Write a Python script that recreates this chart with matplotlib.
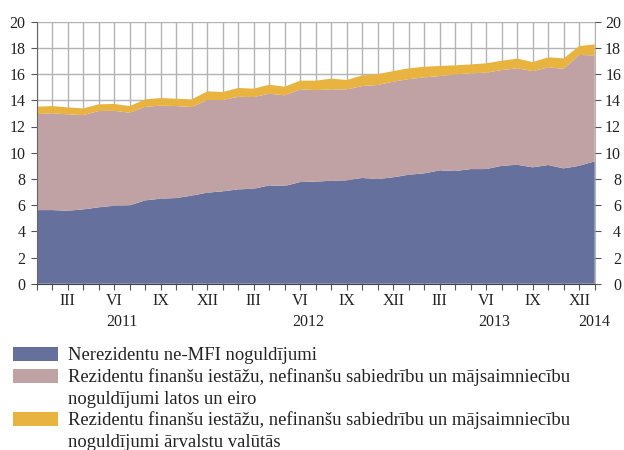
import matplotlib
matplotlib.use("Agg")
import matplotlib.pyplot as plt
from matplotlib.patches import Rectangle
import numpy as np

# monthly data, I 2011 .. I 2014
blue = [5.62, 5.62, 5.57, 5.67, 5.83, 5.95, 5.98, 6.36, 6.49, 6.54, 6.72, 6.95,
        7.05, 7.20, 7.25, 7.50, 7.46, 7.76, 7.79, 7.86, 7.89, 8.07, 7.99, 8.12,
        8.32, 8.42, 8.65, 8.60, 8.75, 8.75, 9.00, 9.08, 8.88, 9.06, 8.80, 9.00,
        9.34]
pink = [7.33, 7.38, 7.36, 7.20, 7.35, 7.25, 7.07, 7.15, 7.10, 7.02, 6.77, 7.07,
        6.97, 7.07, 7.00, 7.00, 6.92, 7.07, 6.99, 6.97, 6.94, 7.02, 7.18, 7.30,
        7.30, 7.33, 7.20, 7.38, 7.31, 7.36, 7.31, 7.36, 7.35, 7.45, 7.61, 8.46,
        8.09]
orange = [0.56, 0.56, 0.53, 0.51, 0.51, 0.52, 0.51, 0.56, 0.58, 0.56, 0.58, 0.66,
          0.61, 0.67, 0.64, 0.69, 0.66, 0.67, 0.72, 0.82, 0.72, 0.81, 0.83, 0.81,
          0.82, 0.81, 0.77, 0.69, 0.68, 0.71, 0.71, 0.74, 0.69, 0.77, 0.79, 0.68,
          0.84]

roman = ['I', 'II', 'III', 'IV', 'V', 'VI', 'VII', 'VIII', 'IX', 'X', 'XI', 'XII']
shown_months = ['III', 'VI', 'IX', 'XII']
years = ['2011', '2012', '2013', '2014']

labels = [
    'Nerezidentu ne-MFI noguldījumi',
    'Rezidentu finanšu iestāžu, nefinanšu sabiedrību un mājsaimniecību\nnoguldījumi latos un eiro',
    'Rezidentu finanšu iestāžu, nefinanšu sabiedrību un mājsaimniecību\nnoguldījumi ārvalstu valūtās',
]
colors = ['#65719c', '#c1a2a4', '#e8b33f']

plt.rcParams['font.family'] = ['Liberation Serif', 'DejaVu Serif']

W, H = 624, 450
fig = plt.figure(figsize=(W / 100, H / 100), dpi=100)
ax = fig.add_axes([36.7 / W, 1 - 283.7 / H, 558 / W, 262 / H])

x = np.arange(len(blue))
ax.stackplot(x, blue, pink, orange, colors=colors, linewidth=0, zorder=2)

ax.set_xlim(0, len(blue) - 1)
ax.set_ylim(0, 20)
ax.set_yticks(range(0, 21, 2))
ax.set_xticks(x)
month_names = [roman[i % 12] for i in x]
ax.set_xticklabels([m if m in shown_months else '' for m in month_names])

ax.set_axisbelow(True)
ax.grid(True, color='#b4b4b4', linewidth=1.0)

ax.tick_params(axis='both', length=4, width=0.8, color='#555555', labelsize=11.5,
               labelcolor='#222222')
ax.tick_params(axis='x', pad=3)
ax.tick_params(axis='y', pad=4)

ax.spines['top'].set_visible(False)
ax.spines['right'].set_color('#b4b4b4')
ax.spines['left'].set_color('#666666')
ax.spines['bottom'].set_color('#444444')

# right-hand axis, labels right aligned
ax2 = ax.twinx()
ax2.set_ylim(0, 20)
ax2.set_yticks(range(0, 21, 2))
ax2.tick_params(axis='y', length=4, width=0.8, color='#555555', labelsize=11.5,
                labelcolor='#222222', pad=15)
for lab in ax2.get_yticklabels():
    lab.set_horizontalalignment('right')
for s in ax2.spines.values():
    s.set_visible(False)

# year labels under the middle of each year's months
for k, yr in enumerate(years):
    pos = x[x // 12 == k].mean()
    ax.text(pos, -0.146, yr, transform=ax.get_xaxis_transform(),
            ha='center', va='center', fontsize=11.5, color='#222222')

# legend, patch aligned with the first line of each entry
base = 360
step = 21.8
line = 0
for lab, col in zip(labels, colors):
    b = base + line * step
    fig.add_artist(Rectangle((13 / W, 1 - (b + 1) / H), 45 / W, 14 / H,
                             transform=fig.transFigure, facecolor=col,
                             edgecolor='none'))
    for part in lab.split('\n'):
        fig.text(68 / W, 1 - (base + line * step) / H, part, va='baseline',
                 ha='left', fontsize=13.4, color='#222222')
        line += 1

fig.savefig('out.png', dpi=100)
